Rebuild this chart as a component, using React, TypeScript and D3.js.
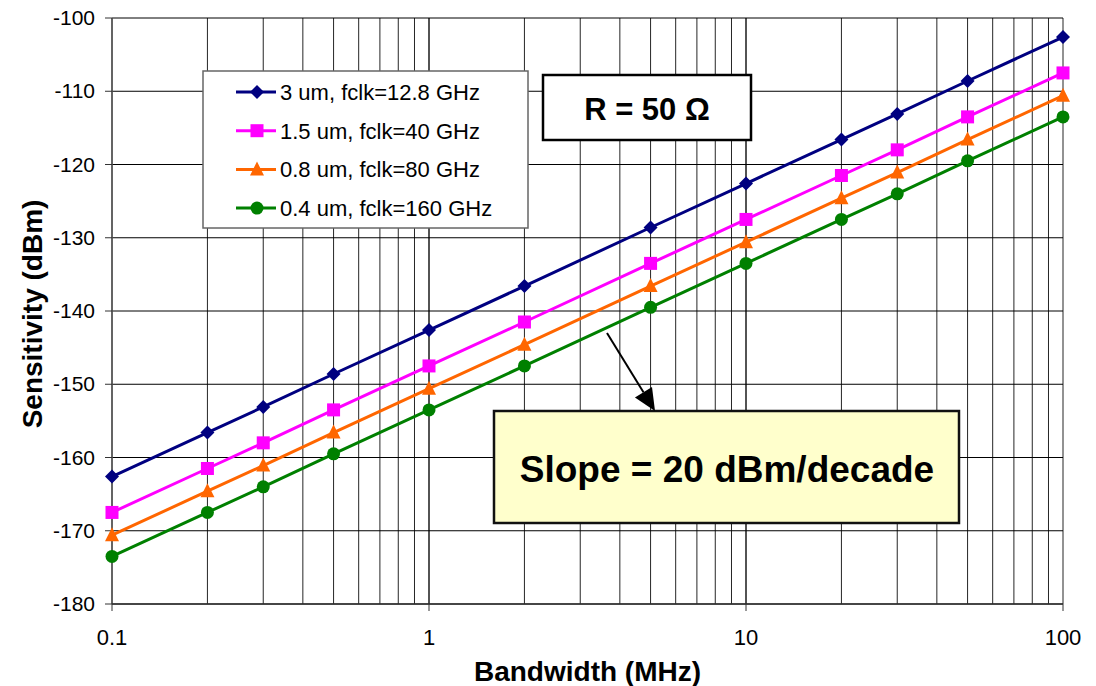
import React from "react";
import * as d3 from "d3";

const bandwidth = [0.1, 0.2, 0.3, 0.5, 1, 2, 5, 10, 20, 30, 50, 100];
const seriesNames = [
  "3 um, fclk=12.8 GHz",
  "1.5 um, fclk=40 GHz",
  "0.8 um, fclk=80 GHz",
  "0.4 um, fclk=160 GHz",
];
const blueValues = [-162.6, -156.6, -153.1, -148.6, -142.6, -136.6, -128.6, -122.6, -116.6, -113.1, -108.6, -102.6];
const magentaValues = [-167.5, -161.5, -158, -153.5, -147.5, -141.5, -133.5, -127.5, -121.5, -118, -113.5, -107.5];
const orangeValues = [-170.6, -164.6, -161.1, -156.6, -150.6, -144.6, -136.6, -130.6, -124.6, -121.1, -116.6, -110.6];
const greenValues = [-173.5, -167.5, -164, -159.5, -153.5, -147.5, -139.5, -133.5, -127.5, -124, -119.5, -113.5];
const xTickLabels = [0.1, 1, 10, 100];
const yTickLabels = [-100, -110, -120, -130, -140, -150, -160, -170, -180];

const colors = ["#000080", "#FF00FF", "#FF6600", "#008000"];
const shapes = ["diamond", "square", "triangle", "circle"];
const allValues = [blueValues, magentaValues, orangeValues, greenValues];

const FONT = "Arial, 'Liberation Sans', Helvetica, sans-serif";

function Marker({ shape, x, y, color }: { shape: string; x: number; y: number; color: string }) {
  if (shape === "diamond") {
    const r = 7;
    return <polygon points={`${x},${y - r} ${x + r},${y} ${x},${y + r} ${x - r},${y}`} fill={color} />;
  }
  if (shape === "square") {
    const r = 6.5;
    return <rect x={x - r} y={y - r} width={2 * r} height={2 * r} fill={color} />;
  }
  if (shape === "triangle") {
    const r = 7;
    return <polygon points={`${x},${y - r - 1} ${x + r},${y + r - 1} ${x - r},${y + r - 1}`} fill={color} />;
  }
  return <circle cx={x} cy={y} r={6.5} fill={color} />;
}

export default function App() {
  const W = 1096, H = 686;
  const left = 112, right = 1063, top = 18, bottom = 604;
  const x = d3.scaleLog().domain([0.1, 100]).range([left, right]);
  const y = d3.scaleLinear().domain([-180, -100]).range([bottom, top]);

  const minorX: number[] = [];
  for (const dec of [0.1, 1, 10]) {
    for (let k = 1; k <= 10; k++) minorX.push(dec * k);
  }
  const line = d3
    .line<number>()
    .x((_, i) => x(bandwidth[i]))
    .y((v) => y(v));

  // arrow
  const ax1 = 607, ay1 = 333, ax2 = 655, ay2 = 411;
  const ang = Math.atan2(ay2 - ay1, ax2 - ax1);
  const hl = 22, hw = 10;
  const bx = ax2 - hl * Math.cos(ang), by = ay2 - hl * Math.sin(ang);
  const px = -Math.sin(ang), py = Math.cos(ang);

  return (
    <svg width={W} height={H} style={{ position: "absolute", left: 0, top: 0, background: "#fff" }} fontFamily={FONT}>
      {/* vertical grid */}
      {minorX.map((v, i) => (
        <line key={"vx" + i} x1={x(v)} x2={x(v)} y1={top} y2={bottom} stroke="#000" strokeWidth={1} opacity={0.85} />
      ))}
      {/* horizontal grid */}
      {yTickLabels.map((v) => (
        <line key={"hy" + v} x1={left} x2={right} y1={y(v)} y2={y(v)} stroke="#000" strokeWidth={1} />
      ))}
      {/* axes */}
      <line x1={left} x2={left} y1={top} y2={bottom} stroke="#555" strokeWidth={1.5} />
      <line x1={left} x2={right} y1={bottom} y2={bottom} stroke="#333" strokeWidth={1.5} />
      {yTickLabels.map((v) => (
        <g key={"yt" + v}>
          <line x1={left - 7} x2={left} y1={y(v)} y2={y(v)} stroke="#333" strokeWidth={1} />
          <text x={95} y={y(v) + 7} textAnchor="end" fontSize={21} fill="#000">
            {v}
          </text>
        </g>
      ))}
      {xTickLabels.map((v) => (
        <g key={"xt" + v}>
          <line x1={x(v)} x2={x(v)} y1={bottom} y2={bottom + 7} stroke="#333" strokeWidth={1} />
          <text x={x(v)} y={645} textAnchor="middle" fontSize={22} fill="#000">
            {v}
          </text>
        </g>
      ))}
      {/* titles */}
      <text x={(left + right) / 2} y={681} textAnchor="middle" fontSize={28} fontWeight="bold">
        Bandwidth (MHz)
      </text>
      <text transform={`translate(42,314) rotate(-90)`} textAnchor="middle" fontSize={28} fontWeight="bold">
        Sensitivity (dBm)
      </text>

      {/* series */}
      {allValues.map((vals, si) => (
        <g key={"s" + si}>
          <path d={line(vals) || ""} fill="none" stroke={colors[si]} strokeWidth={3} />
          {vals.map((v, i) => (
            <Marker key={i} shape={shapes[si]} x={x(bandwidth[i])} y={y(v)} color={colors[si]} />
          ))}
        </g>
      ))}

      {/* legend */}
      <rect x={203} y={71} width={325} height={157} fill="#fff" stroke="#666" strokeWidth={1.5} />
      {seriesNames.map((name, i) => {
        const ry = 92 + i * 38.7;
        return (
          <g key={"lg" + i}>
            <line x1={236} x2={276} y1={ry} y2={ry} stroke={colors[i]} strokeWidth={3} />
            <Marker shape={shapes[i]} x={257} y={ry} color={colors[i]} />
            <text x={280} y={ry + 8} fontSize={22} fill="#000">
              {name}
            </text>
          </g>
        );
      })}

      {/* R box */}
      <rect x={543} y={75} width={208} height={65} fill="#fff" stroke="#000" strokeWidth={2.5} />
      <text x={647} y={120} textAnchor="middle" fontSize={31} fontWeight="bold">
        R = 50 Ω
      </text>

      {/* slope box */}
      <rect x={494} y={411} width={465} height={112} fill="#FFFFCC" stroke="#111" strokeWidth={2.5} />
      <text x={727} y={482} textAnchor="middle" fontSize={37} fontWeight="bold">
        Slope = 20 dBm/decade
      </text>

      {/* arrow */}
      <line x1={ax1} y1={ay1} x2={bx} y2={by} stroke="#000" strokeWidth={2} />
      <polygon
        points={`${ax2},${ay2} ${bx + px * hw},${by + py * hw} ${bx - px * hw},${by - py * hw}`}
        fill="#000"
      />
    </svg>
  );
}
